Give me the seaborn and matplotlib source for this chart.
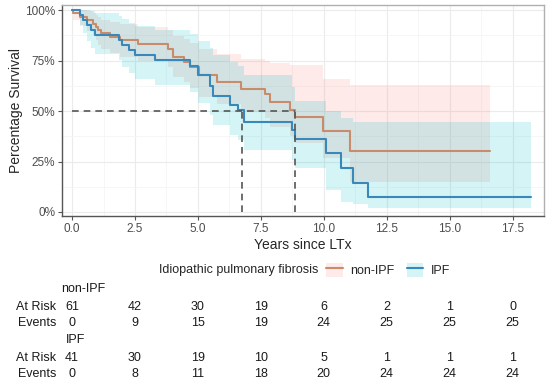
import pandas as pd
import matplotlib
matplotlib.use("Agg")
import matplotlib.pyplot as plt
import matplotlib.transforms as mtransforms
from matplotlib.patches import Patch
from matplotlib.lines import Line2D
import seaborn as sns

# Kaplan-Meier steps (years, percent)
ipf_time = [0, 0.3, 0.42, 0.6, 0.74, 0.92, 1.85, 2.0, 2.25, 2.51, 3.3, 4.7, 5.0,
            5.48, 5.6, 6.27, 6.6, 6.83, 8.72, 8.85, 10.1, 10.7, 11.16, 11.76]
ipf_surv = [100, 97.6, 95.1, 92.7, 90.2, 87.8, 85.4, 82.9, 80.5, 78.0, 75.3, 72.6, 67.8,
            62.4, 57.6, 53.0, 50.4, 44.7, 40.6, 36.0, 29.0, 21.6, 14.2, 7.6]
ipf_lower = [100, 92.9, 88.6, 85.0, 81.5, 78.3, 75.2, 72.1, 69.1, 66.1, 62.9, 59.6, 54.1,
             48.2, 43.1, 38.2, 35.5, 30.5, 26.0, 21.8, 11.0, 5.0, 4.0, 2.0]
ipf_upper = [100, 100, 100, 100, 99.8, 98.5, 97.0, 95.5, 93.8, 92.0, 90.2, 88.4, 85.0,
             81.5, 77.8, 74.4, 72.3, 67.8, 62.0, 55.0, 50.0, 46.5, 44.7, 44.7]
ipf_end = 18.25

non_time = [0, 0.05, 0.3, 0.6, 0.85, 0.95, 1.05, 1.15, 1.5, 1.9, 2.6, 3.82, 4.0, 4.43,
            4.68, 5.03, 5.74, 6.73, 7.66, 7.88, 8.65, 8.85, 9.97, 11.03]
non_surv = [100, 98.4, 96.7, 95.1, 93.4, 91.8, 90.2, 88.5, 86.9, 85.2, 83.4, 81.0, 76.6, 74.4,
            72.0, 67.8, 64.5, 61.2, 58.7, 54.6, 50.5, 47.2, 40.2, 30.3]
non_lower = [100, 95.3, 92.4, 89.9, 87.5, 85.2, 83.0, 80.8, 78.8, 76.7, 74.6, 71.8, 66.8, 64.3,
             61.6, 56.9, 53.4, 49.6, 46.7, 42.2, 37.9, 34.2, 26.6, 15.0]
non_upper = [100, 100, 100, 99.5, 98.6, 97.5, 96.5, 95.3, 94.2, 93.0, 91.8, 90.2, 87.2, 85.8,
             84.0, 80.8, 78.5, 76.0, 75.0, 74.0, 73.0, 72.8, 66.0, 63.0]
non_end = 16.6

medians = [6.77, 8.87]

table_times = [0, 2.5, 5, 7.5, 10, 12.5, 15, 17.5]
non_at_risk = [61, 42, 30, 19, 6, 2, 1, 0]
non_events = [0, 9, 15, 19, 24, 25, 25, 25]
ipf_at_risk = [41, 30, 19, 10, 5, 1, 1, 1]
ipf_events = [0, 8, 11, 18, 20, 24, 24, 24]

line_cols = {"non-IPF": "#C88C6C", "IPF": "#3A88BA"}
fill_cols = {"non-IPF": (0.973, 0.463, 0.427, 0.15), "IPF": (0.0, 0.749, 0.769, 0.17)}

rows = []
for grp, t, s, end in [("non-IPF", non_time, non_surv, non_end), ("IPF", ipf_time, ipf_surv, ipf_end)]:
    for ti, si in zip(t + [end], s + [s[-1]]):
        rows.append({"time": ti, "surv": si, "group": grp})
df = pd.DataFrame(rows)

sns.set_style("white")
plt.rcParams["font.family"] = ["Liberation Sans", "DejaVu Sans"]

fig = plt.figure(figsize=(5.5, 3.89), dpi=100)
W, H = 550, 389
ax = fig.add_axes([62 / W, 1 - 216 / H, (544 - 62) / W, (216 - 5) / H])

# confidence ribbons
for grp, t, lo, up, end in [("non-IPF", non_time, non_lower, non_upper, non_end),
                            ("IPF", ipf_time, ipf_lower, ipf_upper, ipf_end)]:
    ax.fill_between(t + [end], lo + [lo[-1]], up + [up[-1]], step="post",
                    color=fill_cols[grp], linewidth=0)

sns.lineplot(data=df, x="time", y="surv", hue="group", palette=line_cols,
             estimator=None, sort=False, drawstyle="steps-post", linewidth=1.5,
             legend=False, ax=ax)

# median lines
ax.plot([0, max(medians)], [50, 50], color="#555555", lw=1.2, ls=(0, (4, 3)))
for m in medians:
    ax.plot([m, m], [0, 50], color="#555555", lw=1.2, ls=(0, (4, 3)))

ax.set_xlim(-0.4, 18.73)
ax.set_ylim(-2, 102.6)
ax.set_xticks(table_times)
ax.set_xticklabels([f"{v:.1f}" for v in table_times])
ax.set_yticks([0, 25, 50, 75, 100])
ax.set_yticklabels(["0%", "25%", "50%", "75%", "100%"])
ax.set_xticks([v + 1.25 for v in table_times], minor=True)
ax.set_yticks([12.5, 37.5, 62.5, 87.5], minor=True)
ax.grid(which="major", color="#EBEBEB", lw=0.8)
ax.grid(which="minor", color="#F5F5F5", lw=0.6)
ax.set_axisbelow(True)
ax.tick_params(which="major", length=3, width=0.8, color="#555555",
               labelsize=8.5, labelcolor="#4D4D4D", pad=2, bottom=True, left=True)
ax.tick_params(which="minor", length=0)
for side in ["top", "right"]:
    ax.spines[side].set_color("#B0B0B0")
for side in ["left", "bottom"]:
    ax.spines[side].set_color("#555555")
for sp in ax.spines.values():
    sp.set_linewidth(1.0)

ax.set_xlabel("Years since LTx", fontsize=10, labelpad=2)
ax.set_ylabel("Percentage Survival", fontsize=10, labelpad=1)

# legend row
fig.text(318 / W, 1 - 270 / H, "Idiopathic pulmonary fibrosis", ha="right", va="center", fontsize=9)
handles = [(Patch(facecolor=fill_cols[g], edgecolor="none"), Line2D([], [], color=line_cols[g], lw=1.5))
           for g in ["non-IPF", "IPF"]]
fig.legend(handles, ["non-IPF", "IPF"], ncol=2, frameon=False, loc="center left",
           bbox_to_anchor=(320 / W, 1 - 270 / H), fontsize=9, handlelength=1.3,
           handleheight=1.4, handletextpad=0.6, columnspacing=1.0, borderpad=0)

# risk table, x positions on the plot's own time scale
trans = mtransforms.blended_transform_factory(ax.transData, fig.transFigure)
table = [("non-IPF", 289, non_at_risk, non_events, 61), ("IPF", 340, ipf_at_risk, ipf_events, 66)]
for name, y0, risk, ev, xl in table:
    fig.text(xl / W, 1 - y0 / H, name, ha="left", va="center", fontsize=9, color="#1A1A1A")
    for lab, yy, vals in [("At Risk", y0 + 18, risk), ("Events", y0 + 34, ev)]:
        fig.text(56 / W, 1 - yy / H, lab, ha="right", va="center", fontsize=9, color="#1A1A1A")
        for t, v in zip(table_times, vals):
            ax.text(t, 1 - yy / H, str(v), transform=trans, ha="center", va="center",
                    fontsize=9, color="#1A1A1A")

fig.savefig("out.png", dpi=100)
